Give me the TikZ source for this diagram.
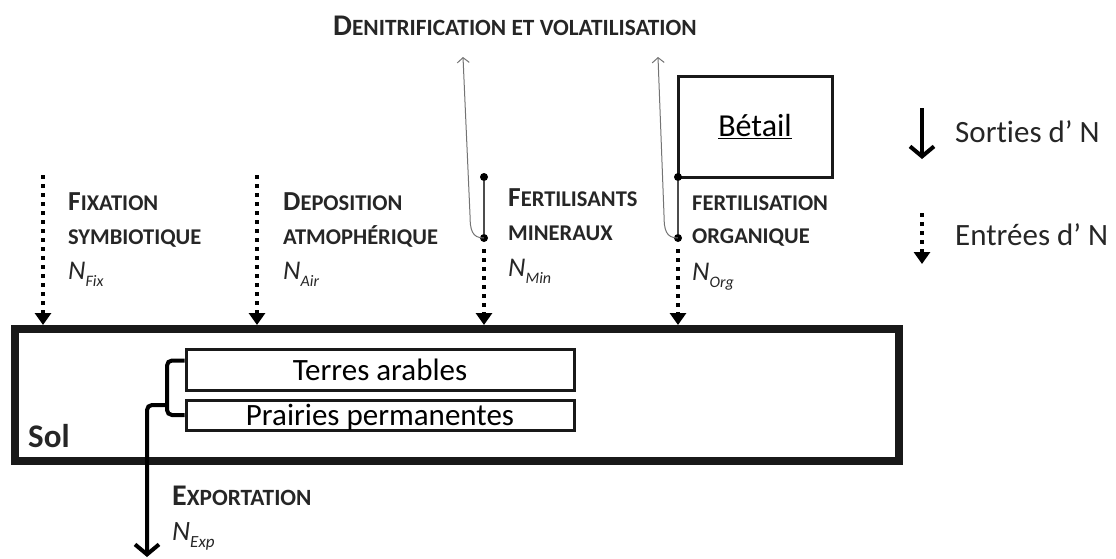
\documentclass[tikz,border=0pt]{standalone}
\usepackage{fontspec}
\setmainfont{Carlito}[Ligatures=NoCommon]
\usetikzlibrary{arrows.meta,calc}
\newcommand\fsz[1]{\fontsize{#1}{#1}\selectfont}
\newcommand\scl[2]{{\bfseries\fsz{27.5}#1\fsz{22.5}#2}}
\newcommand\scs[1]{{\bfseries\fsz{22.5}#1}}
\newcommand\scL[2]{{\bfseries\fsz{30}#1\fsz{23.3}#2}}
\newcommand\Nsub[3][27]{{\fsz{#1}\itshape N\raisebox{-7pt}{\fsz{#2}#3}}}
\begin{document}
\begin{tikzpicture}[x=1pt,y=-1pt,
  lbl/.style={anchor=base west,inner sep=0pt,text=black!85},
  solbox/.style={draw=black!90,line width=8pt,minimum width=884pt,minimum height=132pt,inner sep=0pt},
  landbox/.style={draw=black!90,line width=3pt,minimum width=388pt,inner sep=0pt,text depth=0pt,font=\fsz{31}},
  inarrow/.style={line width=4pt,dash pattern=on 4pt off 5pt,-{Triangle[length=12pt,width=16pt]}},
  outarrow/.style={line width=4pt,rounded corners=5pt,-{Straight Barb[length=10pt,width=24pt,line width=4pt]}},
  brk/.style={line width=4pt,rounded corners=5pt},
  grayarrow/.style={draw=black!55,line width=1pt,-{Straight Barb[length=5pt,width=12pt,line width=1pt]}},
  thinline/.style={draw=black!70,line width=1.5pt},
  dot/.style={circle,fill=black,inner sep=0pt,minimum size=8pt}
]
\useasboundingbox (0,0) rectangle (1116,558);

% Sol
\node[solbox] (sol) at (457,395) {};
\node[lbl] (soltxt) at (28,447) {\bfseries\fsz{33}Sol};
\node[landbox,minimum height=41pt] (terres) at (380,369.5) {Terres arables};
\node[landbox,minimum height=30pt] (prairies) at (380,415) {Prairies permanentes};

% bracket and exportation
\coordinate (junc) at (167,405);
\coordinate (exptip) at (147,557);
\draw[brk] ($(terres.west)+(0,-9)$) -| (junc) |- (prairies.west);
\draw[outarrow] (junc) -- (147,405) -- (exptip);
\node[lbl] (exp) at (172,505) {\scL{E}{XPORTATION}};
\node[lbl] (nexp) at (172,540) {\Nsub[28]{17}{Exp}};

% inputs
\coordinate (fixtop) at (43,175);
\coordinate (airtop) at (257,175);
\coordinate (mintop) at (484,249);
\coordinate (orgtop) at (678,249);
\draw[inarrow] (fixtop) -- (fixtop |- sol.north);
\draw[inarrow] (airtop) -- (airtop |- sol.north);
\draw[inarrow] (mintop) -- (mintop |- sol.north);
\draw[inarrow] (orgtop) -- (orgtop |- sol.north);

\node[lbl] (fix1) at (68,210) {\scl{F}{IXATION}};
\node[lbl] (fix2) at (68,244) {\scs{SYMBIOTIQUE}};
\node[lbl] (fix3) at (68,279) {\Nsub{16}{Fix}};
\node[lbl] (air1) at (283,210) {\scl{D}{EPOSITION}};
\node[lbl] (air2) at (283,244) {\scs{ATMOPHÉRIQUE}};
\node[lbl] (air3) at (283,279) {\Nsub{16}{Air}};
\node[lbl] (min1) at (508,206) {\scl{F}{ERTILISANTS}};
\node[lbl] (min2) at (508,240) {\scs{MINERAUX}};
\node[lbl] (min3) at (508,276) {\Nsub{16}{Min}};
\node[lbl] (org1) at (692,210) {\scs{FERTILISATION}};
\node[lbl] (org2) at (692,243) {\scs{ORGANIQUE}};
\node[lbl] (org3) at (692,280) {\Nsub{16}{Org}};

% Betail
\node[draw=black!90,line width=3pt,minimum width=154pt,minimum height=101pt,outer sep=0pt,font=\fsz{32}] (betail) at (755,126.5) {\underline{Bétail}};

% denitrification
\node[lbl] (den) at (333,35) {\scL{D}{ENITRIFICATION ET VOLATILISATION}};
\node[dot] (minup) at (484,177) {};
\node[dot] (mindot) at (484,238) {};
\node[dot] (orgdot) at (678,238) {};
\node[dot] (orgup) at (betail.south west) {};
\coordinate (denmin) at (463,57);
\coordinate (denorg) at (658,57);
\draw[thinline] (minup) -- (mindot);
\draw[thinline] (orgup) -- (orgdot);
\draw[grayarrow] (mindot.center) .. controls (472,238) and (470,230) .. (470,215) -- (denmin);
\draw[grayarrow] (orgdot.center) .. controls (666,238) and (664,230) .. (664,215) -- (denorg);

% legend
\coordinate (l1a) at (922,108);
\coordinate (l1b) at (922,159);
\coordinate (l2a) at (922,213);
\coordinate (l2b) at (922,264);
\draw[outarrow] (l1a) -- (l1b);
\draw[inarrow] (l2a) -- (l2b);
\node[lbl] (sorties) at (955,142) {\fsz{31}Sorties d' N};
\node[lbl] (entrees) at (955,245) {\fsz{31}Entrées d' N};
\end{tikzpicture}
\end{document}
